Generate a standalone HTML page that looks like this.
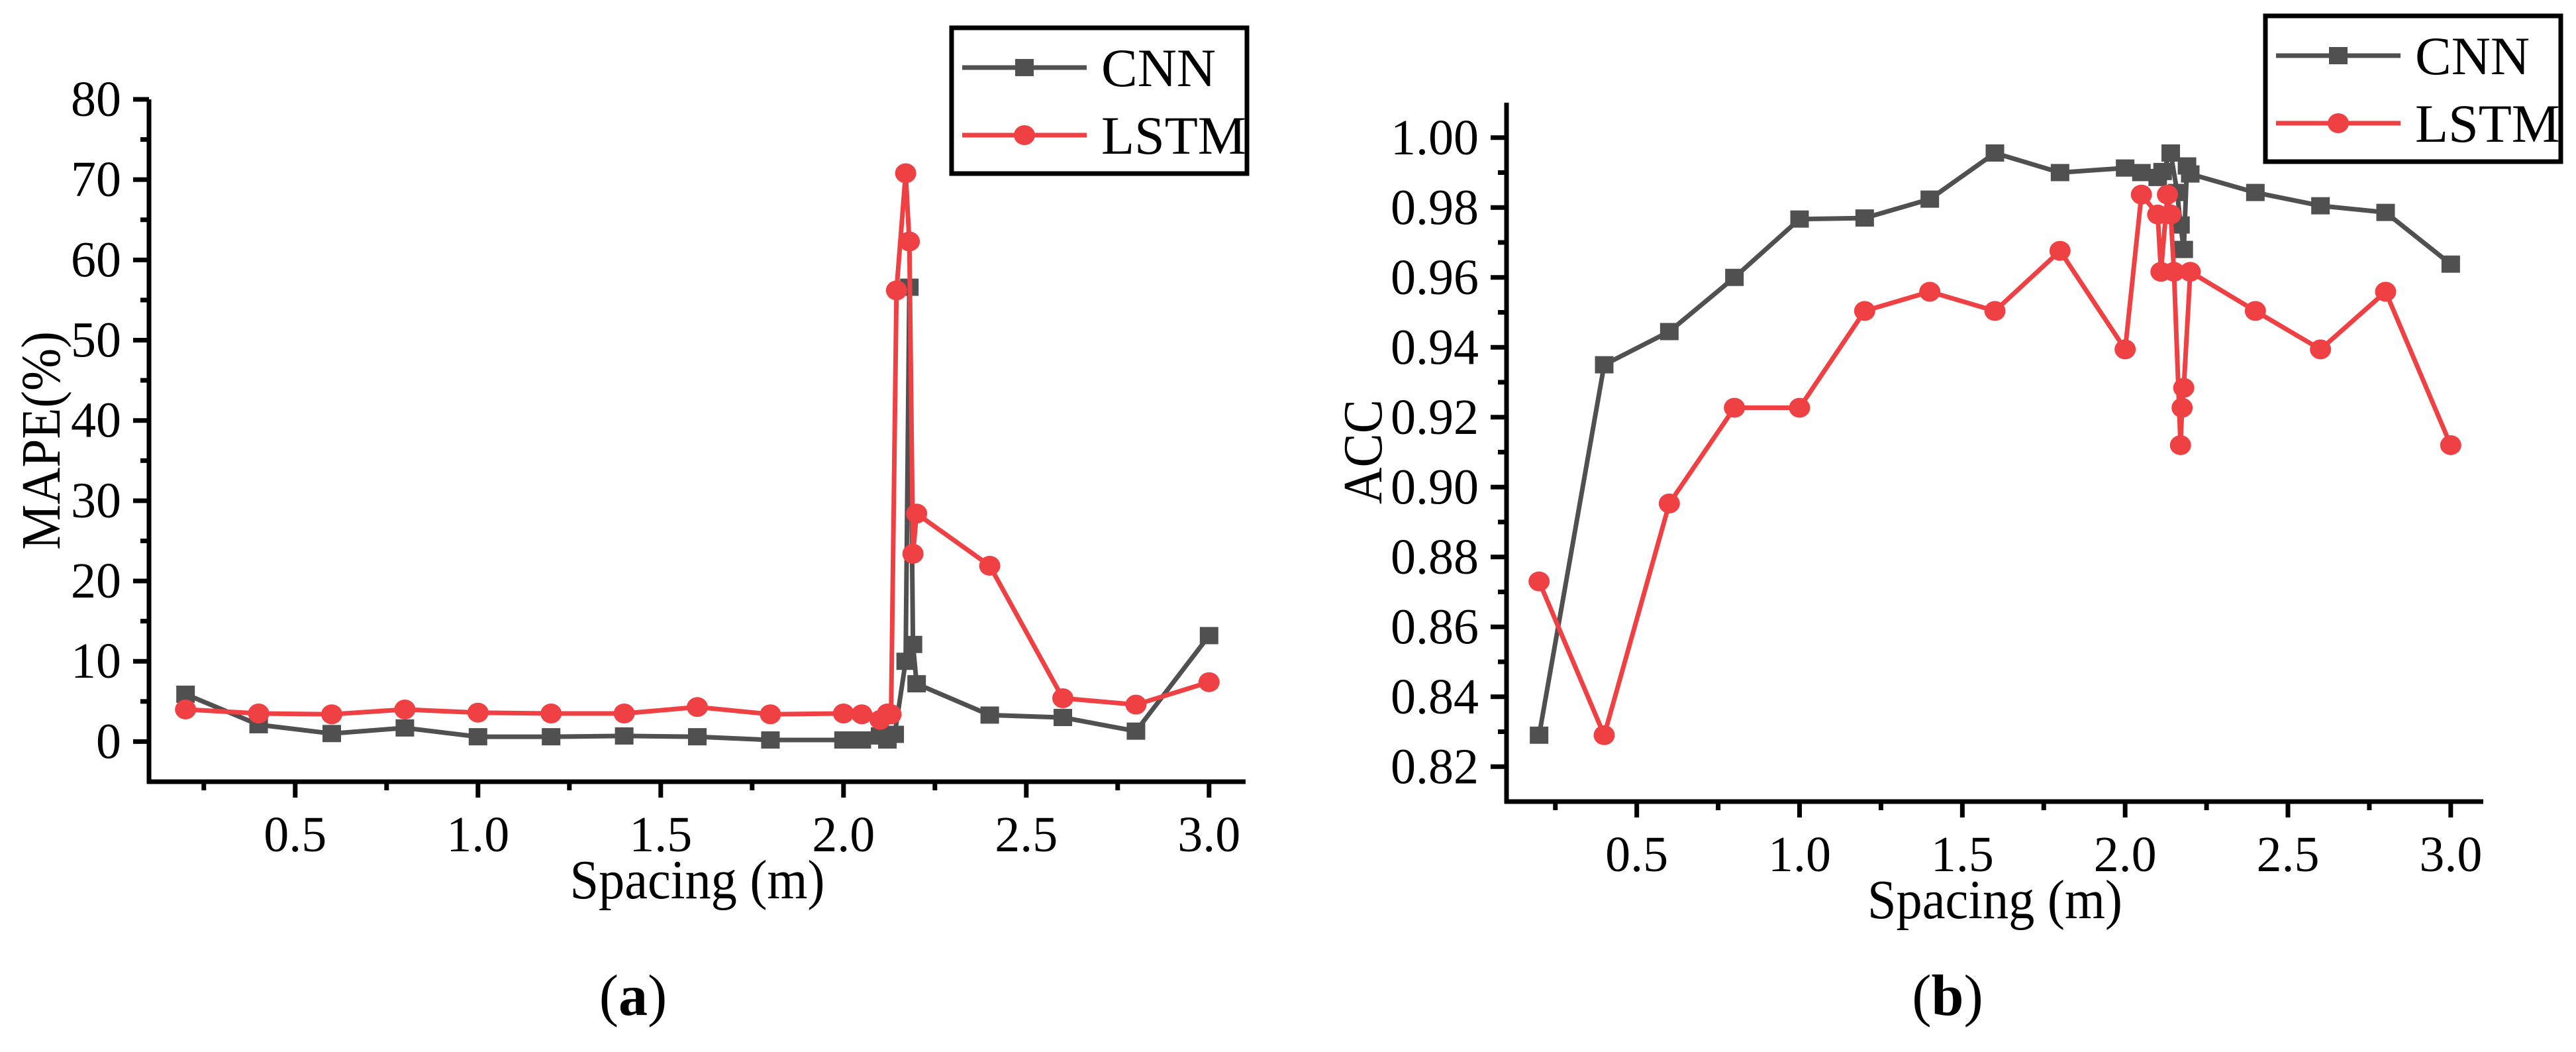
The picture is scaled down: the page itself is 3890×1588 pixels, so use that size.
<!DOCTYPE html>
<html><head><meta charset="utf-8"><style>
html,body{margin:0;padding:0;background:#fff;}
svg{display:block;}
svg text{font-family:"Liberation Serif","DejaVu Serif",serif;}
</style></head><body>
<svg id="fig" width="3890" height="1588" viewBox="0 0 3890 1588" xmlns="http://www.w3.org/2000/svg" font-family="Liberation Serif, serif">
<g id="chartA"></g>
<g id="chartB"></g>
</svg>
<script>
// Chart (a) data
const aCnnX = [0.2,0.4,0.6,0.8,1.0,1.2,1.4,1.6,1.8,2.0,2.05,2.1,2.12,2.14,2.17,2.18,2.19,2.2,2.4,2.6,2.8,3.0];
const aCnnY = [5.9,2.1,1.0,1.7,0.6,0.6,0.7,0.6,0.2,0.2,0.2,0.7,0.2,0.9,10.0,56.6,12.1,7.2,3.3,3.0,1.3,13.2];
const aLstmX = [0.2,0.4,0.6,0.8,1.0,1.2,1.4,1.6,1.8,2.0,2.05,2.1,2.12,2.13,2.145,2.17,2.18,2.19,2.2,2.4,2.6,2.8,3.0];
const aLstmY = [4.0,3.5,3.4,4.0,3.6,3.5,3.5,4.3,3.4,3.5,3.4,2.7,3.5,3.4,56.2,70.8,62.3,23.4,28.4,21.9,5.4,4.6,7.4];
const aYTicks = [0,10,20,30,40,50,60,70,80];
const aXTicks = [0.5,1.0,1.5,2.0,2.5,3.0];
// Chart (b) data
const bCnnX = [0.2,0.4,0.6,0.8,1.0,1.2,1.4,1.6,1.8,2.0,2.05,2.1,2.115,2.14,2.16,2.17,2.18,2.19,2.2,2.4,2.6,2.8,3.0];
const bCnnY = [0.829,0.935,0.9445,0.960,0.9767,0.977,0.9824,0.9956,0.990,0.9913,0.990,0.9886,0.9903,0.9956,0.9843,0.975,0.968,0.9919,0.9896,0.9843,0.9805,0.9786,0.9638];
const bLstmX = [0.2,0.4,0.6,0.8,1.0,1.2,1.4,1.6,1.8,2.0,2.05,2.1,2.11,2.13,2.14,2.15,2.17,2.175,2.18,2.2,2.4,2.6,2.8,3.0];
const bLstmY = [0.873,0.829,0.8953,0.9227,0.9227,0.9504,0.9559,0.9504,0.9676,0.9394,0.9837,0.978,0.9616,0.9837,0.978,0.9616,0.912,0.9227,0.9284,0.9616,0.9504,0.9394,0.9559,0.912];
const bYTicks = [0.82,0.84,0.86,0.88,0.90,0.92,0.94,0.96,0.98,1.00];
const bXTicks = [0.5,1.0,1.5,2.0,2.5,3.0];

const NS = "http://www.w3.org/2000/svg";
const FF = '"Liberation Serif", serif';
function mk(parent, tag, attrs, text){
  const e = document.createElementNS(NS, tag);
  for (const k in attrs) e.setAttribute(k, attrs[k]);
  if (tag === "text") e.setAttribute("font-family", FF);
  if (text !== undefined) e.textContent = text;
  parent.appendChild(e);
  return e;
}
const CNN_C = "#505050", LSTM_C = "#ef4043";

function drawChart(g, cfg){
  const sx = v => cfg.L + (v - cfg.xmin) / (cfg.xmax - cfg.xmin) * (cfg.R - cfg.L);
  const sy = v => cfg.B - (v - cfg.ymin) / (cfg.ymax - cfg.ymin) * (cfg.B - cfg.T);
  let e;
  e = mk(g,"line",{x1:cfg.L,y1:cfg.T,x2:cfg.L,y2:cfg.B+3,stroke:"#000","stroke-width":7});
   
  e = mk(g,"line",{x1:cfg.L-3,y1:cfg.B,x2:cfg.R,y2:cfg.B,stroke:"#000","stroke-width":7});
   
  cfg.yTicks.forEach(v=>{
    const y = sy(v);
    e = mk(g,"line",{x1:cfg.L-24,y1:y,x2:cfg.L,y2:y,stroke:"#000","stroke-width":7});
     
    e = mk(g,"text",{x:cfg.L-42,y:y+25,"text-anchor":"end","font-size":76},cfg.yFmt(v));
     
  });
  for (let i=0;i<cfg.yTicks.length;i++){
    const v = cfg.yTicks[i] - cfg.yMinorStep;
    if (v > cfg.ymin){
      e = mk(g,"line",{x1:cfg.L-13,y1:sy(v),x2:cfg.L,y2:sy(v),stroke:"#000","stroke-width":7});
       
    }
  }
  const lastY = cfg.yTicks[cfg.yTicks.length-1] + cfg.yMinorStep;
  if (lastY < cfg.ymax){
    e = mk(g,"line",{x1:cfg.L-13,y1:sy(lastY),x2:cfg.L,y2:sy(lastY),stroke:"#000","stroke-width":7});
     
  }
  cfg.xTicks.forEach(v=>{
    const x = sx(v);
    e = mk(g,"line",{x1:x,y1:cfg.B,x2:x,y2:cfg.B+24,stroke:"#000","stroke-width":7});
     
    e = mk(g,"text",{x:x,y:cfg.B+105,"text-anchor":"middle","font-size":76},v.toFixed(1));
     
    e = mk(g,"line",{x1:sx(v-0.25),y1:cfg.B,x2:sx(v-0.25),y2:cfg.B+13,stroke:"#000","stroke-width":7});
     
  });
  e = mk(g,"text",{x:(cfg.L+cfg.R)/2,y:cfg.B+176,"text-anchor":"middle","font-size":84,textLength:385,lengthAdjust:"spacingAndGlyphs"},"Spacing (m)");
   
  e = mk(g,"text",{x:cfg.yTitleX,y:cfg.yTitleY,"text-anchor":"middle","font-size":84,textLength:cfg.yTitleLen,lengthAdjust:"spacingAndGlyphs",transform:`rotate(-90 ${cfg.yTitleX} ${cfg.yTitleY})`},cfg.yTitle);
   
  function series(xs, ys, color, kind, name){
    const pts = xs.map((x,i)=>sx(x).toFixed(1)+","+sy(ys[i]).toFixed(1)).join(" ");
    let p = mk(g,"polyline",{points:pts,fill:"none",stroke:color,"stroke-width":7,"stroke-linejoin":"round"});
     
    xs.forEach((x,i)=>{
      let m;
      if (kind==="sq") m = mk(g,"rect",{x:sx(x)-14,y:sy(ys[i])-13,width:28,height:26,fill:color});
      else m = mk(g,"ellipse",{cx:sx(x),cy:sy(ys[i]),rx:16,ry:15,fill:color});
       
    });
  }
  series(cfg.cnnX, cfg.cnnY, CNN_C, "sq", "cnn");
  series(cfg.lstmX, cfg.lstmY, LSTM_C, "ci", "lstm");
  const lg = mk(g,"g",{});
   
  e = mk(lg,"rect",{x:cfg.lgX,y:cfg.lgY,width:446,height:220,fill:"#fff",stroke:"#000","stroke-width":7});
   
  const rows = [["CNN",CNN_C,"sq"],["LSTM",LSTM_C,"ci"]];
  rows.forEach((r,i)=>{
    const y = cfg.lgY + 60 + i*102;
    const ent = mk(lg,"g",{});
     
    mk(ent,"line",{x1:cfg.lgX+16,y1:y,x2:cfg.lgX+204,y2:y,stroke:r[1],"stroke-width":7});
    if (r[2]==="sq") mk(ent,"rect",{x:cfg.lgX+96,y:y-13,width:28,height:26,fill:r[1]});
    else mk(ent,"ellipse",{cx:cfg.lgX+110,cy:y,rx:16,ry:15,fill:r[1]});
    mk(ent,"text",{x:cfg.lgX+226,y:y+28,"font-size":82},r[0]);
  });
  e = mk(g,"text",{x:cfg.panelX,y:1532,"text-anchor":"middle","font-size":88});
   
  mk(e,"tspan",{},"(");
  mk(e,"tspan",{"font-weight":"bold"},cfg.panel);
  mk(e,"tspan",{},")");
}

drawChart(document.getElementById("chartA"),{
  L:225,R:1881,T:150,B:1180,xmin:0.1,xmax:3.1,ymin:-5,ymax:80,
  yTicks:aYTicks,xTicks:aXTicks,yMinorStep:5,yFmt:v=>String(v),
  cnnX:aCnnX,cnnY:aCnnY,lstmX:aLstmX,lstmY:aLstmY,
  yTitle:"MAPE(%)",yTitleX:90,yTitleY:665,yTitleLen:330,lgX:1437,lgY:42,panelX:956,panel:"a"
});
drawChart(document.getElementById("chartB"),{
  L:2275,R:3750,T:155,B:1210,xmin:0.1,xmax:3.1,ymin:0.81,ymax:1.01,
  yTicks:bYTicks,xTicks:bXTicks,yMinorStep:0.01,yFmt:v=>v.toFixed(2),
  cnnX:bCnnX,cnnY:bCnnY,lstmX:bLstmX,lstmY:bLstmY,
  yTitle:"ACC",yTitleX:2086,yTitleY:682,yTitleLen:158,lgX:3421,lgY:24,panelX:2941,panel:"b"
});
</script>
</body></html>
